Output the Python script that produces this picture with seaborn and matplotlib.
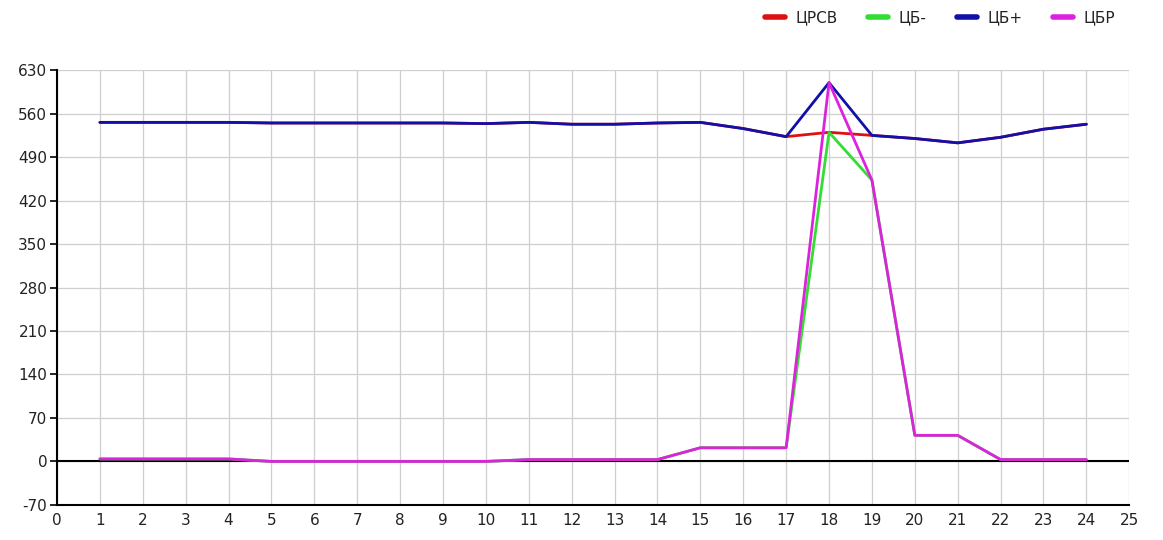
import numpy as np
import pandas as pd
import matplotlib
matplotlib.use("Agg")
import matplotlib.pyplot as plt
import seaborn as sns

hours = list(range(1, 25))
series_names = ["ЦРСВ", "ЦБ-", "ЦБ+", "ЦБР"]
colors = ["#dd1111", "#33dd33", "#1111aa", "#dd22dd"]

crsv = [546, 546, 546, 546, 545, 545, 545, 545, 545, 544, 546, 543, 543, 545, 546, 536, 523,
        530, 525, 520, 513, 522, 535, 543]
cb_minus = [4, 4, 4, 4, 0, 0, 0, 0, 0, 0, 3, 3, 3, 3, 22, 22, 22,
            530, 453, 42, 42, 3, 3, 3]
cb_plus = [546, 546, 546, 546, 545, 545, 545, 545, 545, 544, 546, 543, 543, 545, 546, 536, 523,
           610, 525, 520, 513, 522, 535, 543]
cbr = [4, 4, 4, 4, 0, 0, 0, 0, 0, 0, 3, 3, 3, 3, 22, 22, 22,
       610, 453, 42, 42, 3, 3, 3]

df = pd.DataFrame({"Hour": hours * 4,
                   "Series": np.repeat(series_names, len(hours)),
                   "Value": crsv + cb_minus + cb_plus + cbr})

sns.set_theme(style="white")
plt.rcParams["font.family"] = ["DejaVu Sans"]
plt.rcParams["axes.unicode_minus"] = False

fig = plt.figure(figsize=(11.63, 5.40), dpi=100)
ax = fig.add_axes([0.049, 0.065, 0.922, 0.805])

sns.lineplot(data=df, x="Hour", y="Value", hue="Series", hue_order=series_names,
             palette=colors, linewidth=2, ax=ax, legend=True)

ax.axhline(0, color="black", linewidth=1.5, zorder=1)
ax.set_xlim(0, 25)
ax.set_ylim(-70, 630)
ax.set_xticks(range(0, 26))
ax.set_yticks(range(-70, 631, 70))
ax.grid(True, color="#cfcfcf", linewidth=0.9)
ax.set_axisbelow(True)
ax.set_xlabel("")
ax.set_ylabel("")
for side in ["top", "right"]:
    ax.spines[side].set_visible(False)
for side in ["left", "bottom"]:
    ax.spines[side].set_color("black")
    ax.spines[side].set_linewidth(1.5)
ax.tick_params(axis="y", length=5, width=1.2, color="black", labelsize=11, pad=2,
               left=True, labelcolor="#222222")
ax.tick_params(axis="x", length=0, labelsize=11, pad=6, bottom=True, labelcolor="#222222")

handles, labels = ax.get_legend_handles_labels()
for h in handles:
    h.set_linewidth(4)
leg = ax.legend(handles, labels, loc="center right", bbox_to_anchor=(1.0, 1.12), ncol=4,
                frameon=False, fontsize=11, handlelength=1.3, columnspacing=2.0,
                handletextpad=0.7)
for t in leg.get_texts():
    t.set_color("#222222")

fig.savefig("out.png", dpi=100)
